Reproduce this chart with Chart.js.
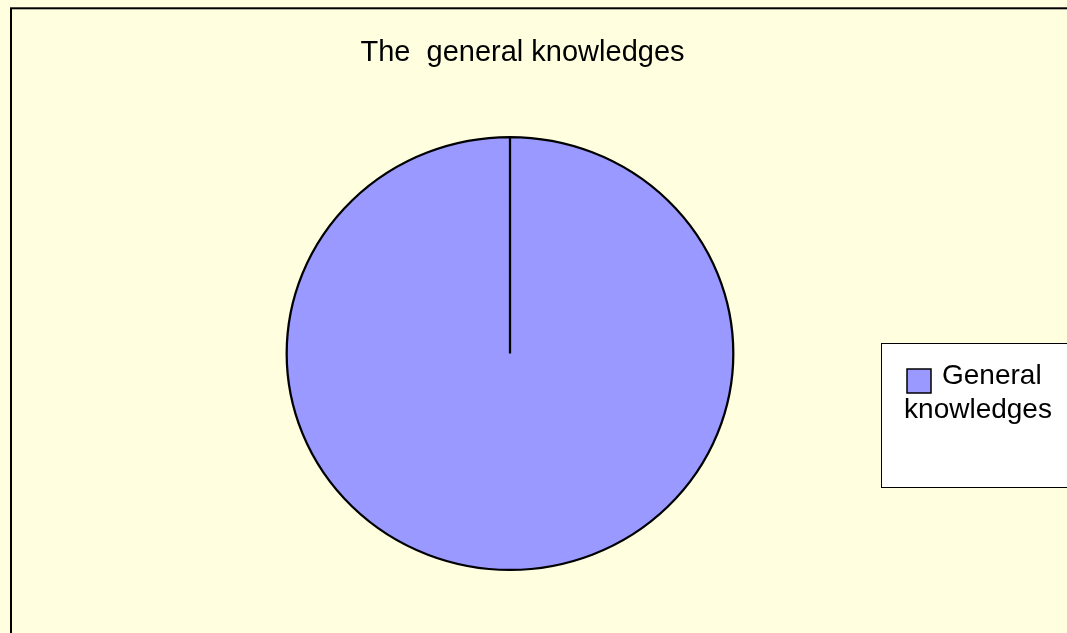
<!DOCTYPE html>
<html>
<head>
<meta charset="utf-8">
<script src="https://cdn.jsdelivr.net/npm/chart.js@4/dist/chart.umd.min.js"></script>
<style>
  body { margin: 0; background: #ffffe0; }
  canvas { display: block; }
</style>
</head>
<body>
<canvas id="chart" width="1067" height="633"></canvas>
<script>
// data
const chartTitle = 'The  general knowledges'
const labels = ['General knowledges']
const values = [100]

const FONT = '"Liberation Sans", Arial, sans-serif'

// background, outer frame and title
const framePlugin = {
  id: 'frame',
  beforeDraw(chart) {
    const ctx = chart.ctx
    ctx.save()
    ctx.fillStyle = '#ffffe0'
    ctx.fillRect(0, 0, chart.width, chart.height)
    ctx.strokeStyle = '#000000'
    ctx.lineWidth = 2
    ctx.strokeRect(11, 8.3, 1100, 700)
    ctx.fillStyle = '#000000'
    ctx.font = '29px ' + FONT
    ctx.textAlign = 'center'
    ctx.textBaseline = 'alphabetic'
    ctx.fillText(chartTitle, 522.5, 61)
    ctx.restore()
  }
}

// stretch the pie slightly wider than tall, like the original
const stretchPlugin = {
  id: 'stretch',
  beforeDatasetsDraw(chart) {
    const arc = chart.getDatasetMeta(0).data[0]
    const ctx = chart.ctx
    ctx.save()
    ctx.translate(arc.x, arc.y)
    ctx.scale(1.032, 1)
    ctx.translate(-arc.x, -arc.y)
  },
  afterDatasetsDraw(chart) {
    chart.ctx.restore()
  }
}

// legend box on the right
const legendPlugin = {
  id: 'boxLegend',
  afterDraw(chart) {
    const ctx = chart.ctx
    const ds = chart.data.datasets[0]
    ctx.save()
    ctx.fillStyle = '#ffffff'
    ctx.fillRect(881.5, 343.5, 200, 144)
    ctx.strokeStyle = '#000000'
    ctx.lineWidth = 1
    ctx.strokeRect(881.5, 343.5, 200, 144)
    chart.data.labels.forEach((label, i) => {
      const words = label.split(' ')
      ctx.fillStyle = ds.backgroundColor[i]
      ctx.fillRect(907, 369, 24, 24)
      ctx.lineWidth = 1.5
      ctx.strokeRect(907, 369, 24, 24)
      ctx.fillStyle = '#000000'
      ctx.font = '28px ' + FONT
      ctx.textBaseline = 'alphabetic'
      ctx.textAlign = 'left'
      ctx.fillText(words[0], 942, 384)
      ctx.textAlign = 'center'
      ctx.fillText(words.slice(1).join(' '), 978, 418)
    })
    ctx.restore()
  }
}

new Chart(document.getElementById('chart').getContext('2d'), {
  type: 'pie',
  data: {
    labels: labels,
    datasets: [
      {
        data: values,
        backgroundColor: ['#9999ff'],
        borderColor: '#000000',
        borderWidth: 2.2,
        hoverOffset: 0
      }
    ]
  },
  options: {
    responsive: false,
    animation: false,
    devicePixelRatio: 1,
    layout: {
      padding: { top: 136, bottom: 62, left: 210, right: 257 }
    },
    plugins: {
      legend: { display: false },
      title: { display: false },
      tooltip: { enabled: false }
    }
  },
  plugins: [framePlugin, stretchPlugin, legendPlugin]
})
</script>
</body>
</html>
